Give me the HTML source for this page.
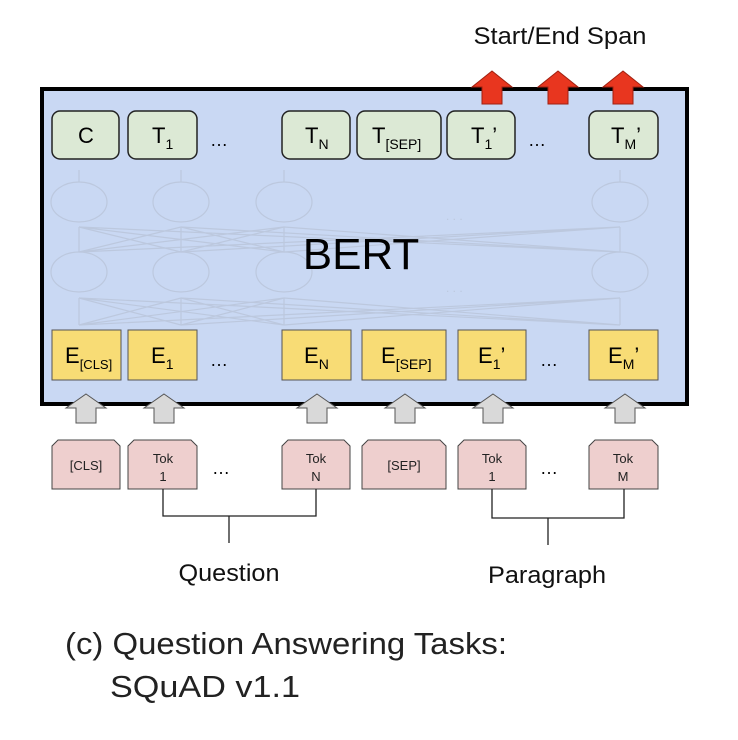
<!DOCTYPE html>
<html><head><meta charset="utf-8"><style>body{margin:0;background:#fff}svg{display:block}</style></head><body>
<svg width="738" height="740" viewBox="0 0 738 740" xmlns="http://www.w3.org/2000/svg" font-family="Liberation Sans, sans-serif">
<rect x="0" y="0" width="738" height="740" fill="#fff"/>
<text x="560" y="44" font-size="24" text-anchor="middle" fill="#111" textLength="173" lengthAdjust="spacingAndGlyphs">Start/End Span</text>
<rect x="42" y="89" width="645" height="315" fill="#c9d8f3" stroke="#000" stroke-width="4"/>
<g stroke="#bcc8de" stroke-width="1.2" fill="none">
<ellipse cx="79" cy="202" rx="28" ry="20"/><ellipse cx="181" cy="202" rx="28" ry="20"/><ellipse cx="284" cy="202" rx="28" ry="20"/><ellipse cx="620" cy="202" rx="28" ry="20"/>
<ellipse cx="79" cy="272" rx="28" ry="20"/><ellipse cx="181" cy="272" rx="28" ry="20"/><ellipse cx="284" cy="272" rx="28" ry="20"/><ellipse cx="620" cy="272" rx="28" ry="20"/>
<path d="M79 182V170M181 182V170M284 182V170M620 182V170"/>
<path d="M79 252V227M181 252V227M284 252V227M620 252V227"/>
<path d="M79 325V298M181 325V298M284 325V298M620 325V298"/>
<path d="M79 252L181 227M79 252L284 227M79 252L620 227M181 252L79 227M181 252L284 227M181 252L620 227M284 252L79 227M284 252L181 227M284 252L620 227M620 252L79 227M620 252L181 227M620 252L284 227"/>
<path d="M79 325L181 298M79 325L284 298M79 325L620 298M181 325L79 298M181 325L284 298M181 325L620 298M284 325L79 298M284 325L181 298M284 325L620 298M620 325L79 298M620 325L181 298M620 325L284 298"/>
</g>
<text x="446" y="220" font-size="12" fill="#bcc8de">. . .</text>
<text x="446" y="292" font-size="12" fill="#bcc8de">. . .</text>
<text x="361" y="269" font-size="44" text-anchor="middle" fill="#000">BERT</text>
<g fill="#dce9d5" stroke="#222" stroke-width="1.5">
<rect x="52" y="111" width="67" height="48" rx="8"/><rect x="128" y="111" width="69" height="48" rx="8"/>
<rect x="282" y="111" width="68" height="48" rx="8"/><rect x="357" y="111" width="84" height="48" rx="8"/>
<rect x="447" y="111" width="68" height="48" rx="8"/><rect x="589" y="111" width="69" height="48" rx="8"/>
</g>
<g font-size="22" fill="#000">
<text x="86" y="143" text-anchor="middle">C</text>
<text x="152" y="143">T<tspan font-size="14" dy="6">1</tspan></text>
<text x="305" y="143">T<tspan font-size="14" dy="6">N</tspan></text>
<text x="372" y="143">T<tspan font-size="14" dy="6">[SEP]</tspan></text>
<text x="471" y="143">T<tspan font-size="14" dy="6">1</tspan><tspan dy="-6">’</tspan></text>
<text x="611" y="143">T<tspan font-size="14" dy="6">M</tspan><tspan dy="-6">’</tspan></text>
<text x="210" y="146" font-size="18">…</text><text x="528" y="146" font-size="18">…</text>
</g>
<g fill="#f8dc75" stroke="#555" stroke-width="1">
<rect x="52" y="330" width="69" height="50"/><rect x="128" y="330" width="69" height="50"/>
<rect x="282" y="330" width="69" height="50"/><rect x="362" y="330" width="84" height="50"/>
<rect x="458" y="330" width="68" height="50"/><rect x="589" y="330" width="69" height="50"/>
</g>
<g font-size="22" fill="#000">
<text x="65" y="363">E<tspan font-size="13" dy="6">[CLS]</tspan></text>
<text x="151" y="363">E<tspan font-size="14" dy="6">1</tspan></text>
<text x="304" y="363">E<tspan font-size="14" dy="6">N</tspan></text>
<text x="381" y="363">E<tspan font-size="14" dy="6">[SEP]</tspan></text>
<text x="478" y="363">E<tspan font-size="14" dy="6">1</tspan><tspan dy="-6">’</tspan></text>
<text x="608" y="363">E<tspan font-size="14" dy="6">M</tspan><tspan dy="-6">’</tspan></text>
<text x="210" y="366" font-size="18">…</text><text x="540" y="366" font-size="18">…</text>
</g>
<g fill="#d9d9d9" stroke="#555" stroke-width="1">
<path d="M86 394l20 14h-10v15h-20v-15h-10z"/>
<path d="M164 394l20 14h-10v15h-20v-15h-10z"/>
<path d="M317 394l20 14h-10v15h-20v-15h-10z"/>
<path d="M405 394l20 14h-10v15h-20v-15h-10z"/>
<path d="M493 394l20 14h-10v15h-20v-15h-10z"/>
<path d="M625 394l20 14h-10v15h-20v-15h-10z"/>
</g>
<g fill="#e8361f" stroke="#a02010" stroke-width="1">
<path d="M492 71l20 16h-10v17h-20v-17h-10z"/>
<path d="M558 71l20 16h-10v17h-20v-17h-10z"/>
<path d="M623 71l20 16h-10v17h-20v-17h-10z"/>
</g>
<g fill="#eecfce" stroke="#444" stroke-width="1">
<path d="M58 440h56l6 6v43h-68v-43z"/>
<path d="M134 440h57l6 6v43h-69v-43z"/>
<path d="M288 440h56l6 6v43h-68v-43z"/>
<path d="M368 440h72l6 6v43h-84v-43z"/>
<path d="M464 440h56l6 6v43h-68v-43z"/>
<path d="M595 440h57l6 6v43h-69v-43z"/>
</g>
<g font-size="13" fill="#222" text-anchor="middle">
<text x="86" y="470">[CLS]</text>
<text x="163" y="463">Tok</text><text x="163" y="481">1</text>
<text x="316" y="463">Tok</text><text x="316" y="481">N</text>
<text x="404" y="470">[SEP]</text>
<text x="492" y="463">Tok</text><text x="492" y="481">1</text>
<text x="623" y="463">Tok</text><text x="623" y="481">M</text>
</g>
<g font-size="18" fill="#000"><text x="212" y="474">…</text><text x="540" y="474">…</text></g>
<g stroke="#222" stroke-width="1.3" fill="none">
<path d="M163 489V516H316V489M229 516V543"/>
<path d="M492 489V518H624V489M548 518V545"/>
</g>
<g font-size="24" fill="#111" text-anchor="middle">
<text x="229" y="581" textLength="101" lengthAdjust="spacingAndGlyphs">Question</text>
<text x="547" y="583" textLength="118" lengthAdjust="spacingAndGlyphs">Paragraph</text>
</g>
<g font-size="31" fill="#222">
<text x="65" y="654" textLength="442" lengthAdjust="spacingAndGlyphs">(c) Question Answering Tasks:</text>
<text x="110" y="697" textLength="190" lengthAdjust="spacingAndGlyphs">SQuAD v1.1</text>
</g>
</svg>
</body></html>
